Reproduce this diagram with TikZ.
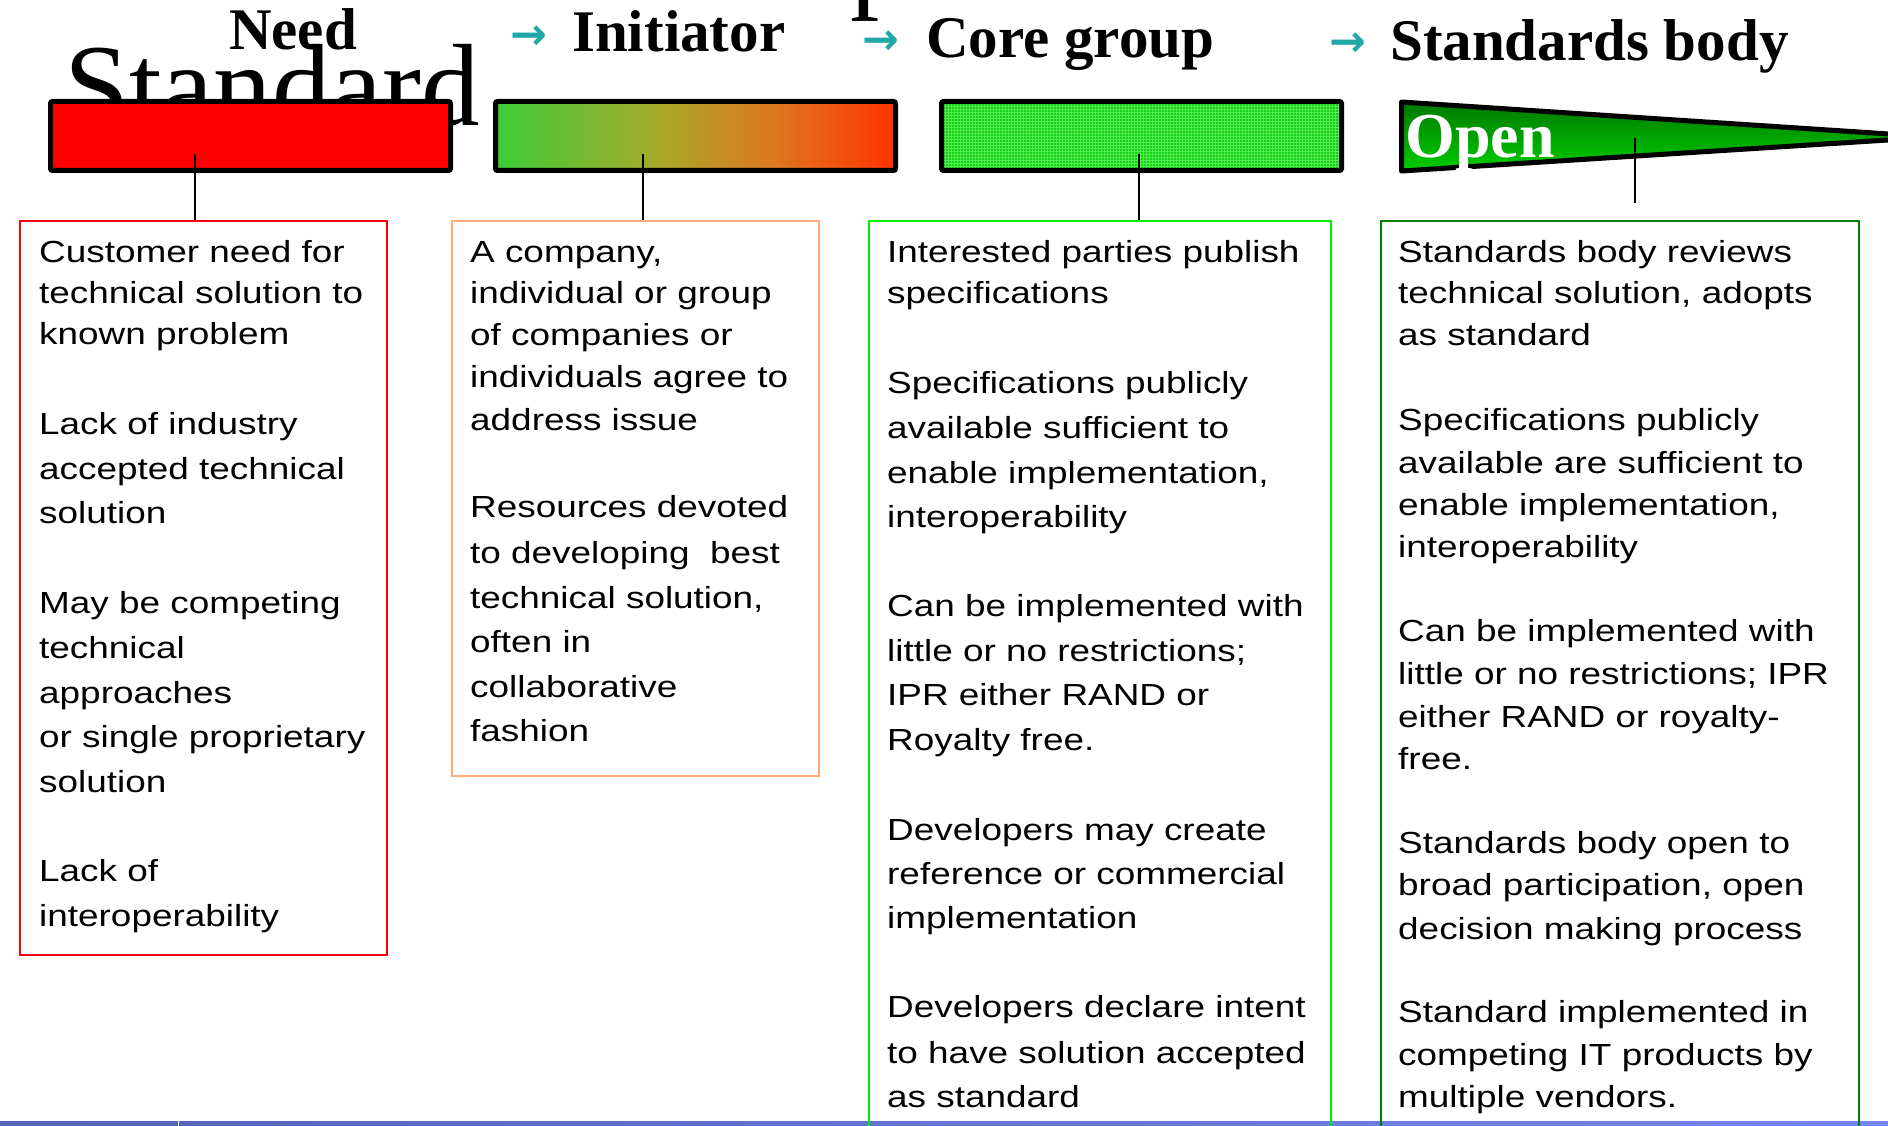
\documentclass[tikz,border=0pt]{standalone}
\usepackage{fontspec}
\setmainfont{Liberation Sans}
\newfontfamily\bodyf[FakeStretch=1.21]{Liberation Sans}
\newfontfamily\headf{Liberation Serif}
\newfontfamily\arrowf{DejaVu Sans}
\usetikzlibrary{patterns}
\definecolor{gA}{RGB}{60,204,56}
\definecolor{gB}{RGB}{165,170,42}
\definecolor{gC}{RGB}{222,118,32}
\definecolor{gD}{RGB}{255,51,0}
\definecolor{coreg}{RGB}{16,208,16}
\definecolor{coregl}{RGB}{85,235,85}
\definecolor{opentop}{RGB}{0,120,0}
\definecolor{openbot}{RGB}{0,205,0}
\definecolor{tealarr}{RGB}{32,168,168}
\definecolor{box2c}{RGB}{255,170,120}
\definecolor{box3c}{RGB}{0,240,0}
\definecolor{box4c}{RGB}{0,128,0}
\definecolor{blueL}{RGB}{85,99,189}
\definecolor{blueR}{RGB}{117,133,238}
\pgfdeclarehorizontalshading{initshade}{100bp}{color(0bp)=(gA); color(25bp)=(gA); color(45bp)=(gB); color(60bp)=(gC); color(75bp)=(gD); color(100bp)=(gD)}
\tikzset{
  ln/.style={anchor=base west, inner sep=0pt, font=\bodyf\fontsize{30.5}{36}\selectfont},
  hd/.style={anchor=base west, inner sep=0pt, font=\headf\bfseries\fontsize{59}{64}\selectfont},
  bigt/.style={anchor=base west, inner sep=0pt, font=\headf\fontsize{117}{122}\selectfont},
  arr/.style={inner sep=0pt, text=tealarr, font=\arrowf\bfseries\fontsize{44}{48}\selectfont},
  bar/.style={draw=black, line width=5pt, rounded corners=2pt, minimum width=400pt, minimum height=69pt, inner sep=0pt},
  txtbox/.style={line width=2pt, inner sep=0pt, anchor=north west},
  conn/.style={line width=2pt, black}
}
\begin{document}
\begin{tikzpicture}[x=1pt,y=-1pt]
\useasboundingbox (0,0) rectangle (1888,1126);
\clip (0,0) rectangle (1888,1126);
\fill[white] (0,0) rectangle (1888,1126);

% title remnants
\node[bigt] (tp) at (850,-3) {p};
\node[bigt] (tstd) at (64,126) {Standard};

% headers
\node[hd] (hneed) at (229,50) {Need};
\node[arr] (ar1) at (529,38) {→};
\node[hd] (hinit) at (572,52) {Initiator};
\node[arr] (ar2) at (881,43) {→};
\node[hd] (hcore) at (926,58) {Core group};
\node[arr] (ar3) at (1348,45) {→};
\node[hd] (hsb) at (1390,61) {Standards body};

% bars
\node[bar, fill=red] (bar1) at (250.5,136) {};
\node[bar, shade, shading=initshade] (bar2) at (695.5,136) {};
\node[bar, preaction={fill=coreg}, preaction={pattern=grid, pattern color=coregl}] (bar3) at (1141.5,136) {};
\path[draw=black, line width=5pt, line join=round, top color=opentop, bottom color=openbot]
  (1401.5,102) -- (1935,137) -- (1401.5,171) -- cycle;
\node[anchor=base west, inner sep=0pt, text=white, font=\headf\bfseries\fontsize{64}{68}\selectfont] (opent) at (1405,158) {Open};

% bottom strip
\path[left color=blueL, right color=blueR] (0,1121) rectangle (1888,1126);
\fill[white] (177.5,1121) rectangle (178.8,1126);

% text boxes
\node[txtbox, draw=red, minimum width=367pt, minimum height=734pt] (box1) at (19,220) {};
\node[txtbox, draw=box2c, minimum width=367pt, minimum height=555pt] (box2) at (451,220) {};
\node[txtbox, draw=box3c, minimum width=462pt, minimum height=940pt] (box3) at (868,220) {};
\node[txtbox, draw=box4c, minimum width=478pt, minimum height=940pt] (box4) at (1380,220) {};

% connectors
\coordinate (c1) at (195,154);
\coordinate (c2) at (643,154);
\coordinate (c3) at (1139,154);
\coordinate (c4) at (1635,138);
\coordinate (c4e) at (1635,203);
\draw[conn] (c1) -- (c1 |- box1.north);
\draw[conn] (c2) -- (c2 |- box2.north);
\draw[conn] (c3) -- (c3 |- box3.north);
\draw[conn] (c4) -- (c4e);

% box 1 text
\foreach \yy/\tx [count=\i] in {262/Customer need for, 303/technical solution to, 344/known problem,
  434/Lack of industry, 479/accepted technical, 523/solution,
  613/May be competing, 658/technical, 703/approaches, 747/or single proprietary, 792/solution,
  881/Lack of, 926/interoperability}
  \node[ln] (a\i) at (39,\yy) {\tx};

% box 2 text
\foreach \yy/\tx [count=\i] in {{262/A company,}, 303/individual or group, 345/of companies or,
  387/individuals agree to, 430/address issue,
  517/Resources devoted, 563/to developing~ best, {608/technical solution,}, 652/often in,
  697/collaborative, 741/fashion}
  \node[ln] (b\i) at (470,\yy) {\tx};

% box 3 text
\foreach \yy/\tx [count=\i] in {262/Interested parties publish, 303/specifications,
  393/Specifications publicly, 438/available sufficient to, {483/enable implementation,}, 527/interoperability,
  616/Can be implemented with, 661/little or no restrictions;, 705/IPR either RAND or, 750/Royalty free.,
  840/Developers may create, 884/reference or commercial, 928/implementation,
  1017/Developers declare intent, 1063/to have solution accepted, 1107/as standard}
  \node[ln] (c\i) at (887,\yy) {\tx};

% box 4 text
\foreach \yy/\tx [count=\i] in {262/Standards body reviews, {303/technical solution, adopts}, 345/as standard,
  430/Specifications publicly, 473/available are sufficient to, {515/enable implementation,}, 557/interoperability,
  641/Can be implemented with, 684/little or no restrictions; IPR, 727/either RAND or royalty-, 769/free.,
  853/Standards body open to, {895/broad participation, open}, 939/decision making process,
  1022/Standard implemented in, 1065/competing IT products by, 1107/multiple vendors.}
  \node[ln] (d\i) at (1398,\yy) {\tx};
\end{tikzpicture}
\end{document}
